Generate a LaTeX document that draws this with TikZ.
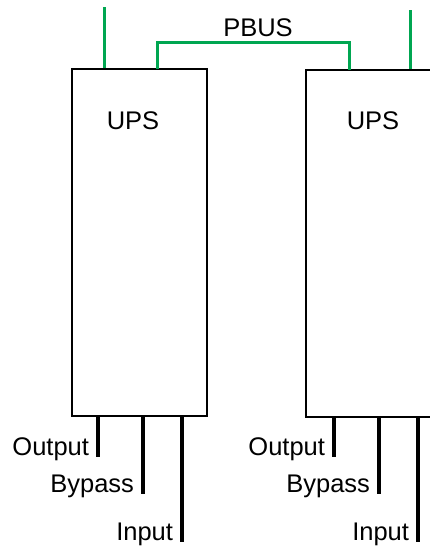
\documentclass[tikz,border=0pt]{standalone}
\usepackage{fontspec}
\setmainfont{Liberation Sans}
\definecolor{busgreen}{RGB}{0,166,81}
\tikzset{
  upsbox/.style={draw,line width=2pt,minimum width=135pt,minimum height=347pt,inner sep=0pt},
  bus/.style={busgreen,line width=3pt},
  lead/.style={line width=4pt},
  lbl/.style={font=\fontsize{25.5}{30}\selectfont,inner sep=0pt},
  tag/.style={lbl,anchor=base east,xshift=-7pt,yshift=1.5pt}
}
\begin{document}
\begin{tikzpicture}[x=1pt,y=-1pt]
   \useasboundingbox (0,0) rectangle (430,550);
   \clip (0,0) rectangle (430,550);
   % the two units
   \node[upsbox] (upsA) at (139.5,242.5) {};
   \node[upsbox] (upsB) at (373.5,243.5) {};
   \node[lbl] (nameA) at (133,121) {UPS};
   \node[lbl] (nameB) at (373,121) {UPS};
   % green lines on top
   \coordinate (feedA) at (104,7);
   \coordinate (feedB) at (410,10);
   \draw[bus] (feedA) -- (feedA |- upsA.north);
   \draw[bus] (feedB) -- (feedB |- upsB.north);
   \coordinate (pA) at (157,69);
   \coordinate (pB) at (349,70);
   \draw[bus] (pA) -- ++(0,-27) -| (pB);
   \node[lbl] (pbus) at (258,28) {PBUS};
   % leads at the bottom
   \coordinate (outA) at (98,416);
   \coordinate (bypA) at (143,416);
   \coordinate (inA) at (182,416);
   \coordinate (outB) at (334,417);
   \coordinate (bypB) at (379,417);
   \coordinate (inB) at (418,417);
   \draw[lead] (outA) -- (98,457) node[tag] {Output};
   \draw[lead] (bypA) -- (143,494) node[tag] {Bypass};
   \draw[lead] (inA) -- (182,542) node[tag] {Input};
   \draw[lead] (outB) -- (334,457) node[tag] {Output};
   \draw[lead] (bypB) -- (379,494) node[tag] {Bypass};
   \draw[lead] (inB) -- (418,542) node[tag] {Input};
\end{tikzpicture}
\end{document}
